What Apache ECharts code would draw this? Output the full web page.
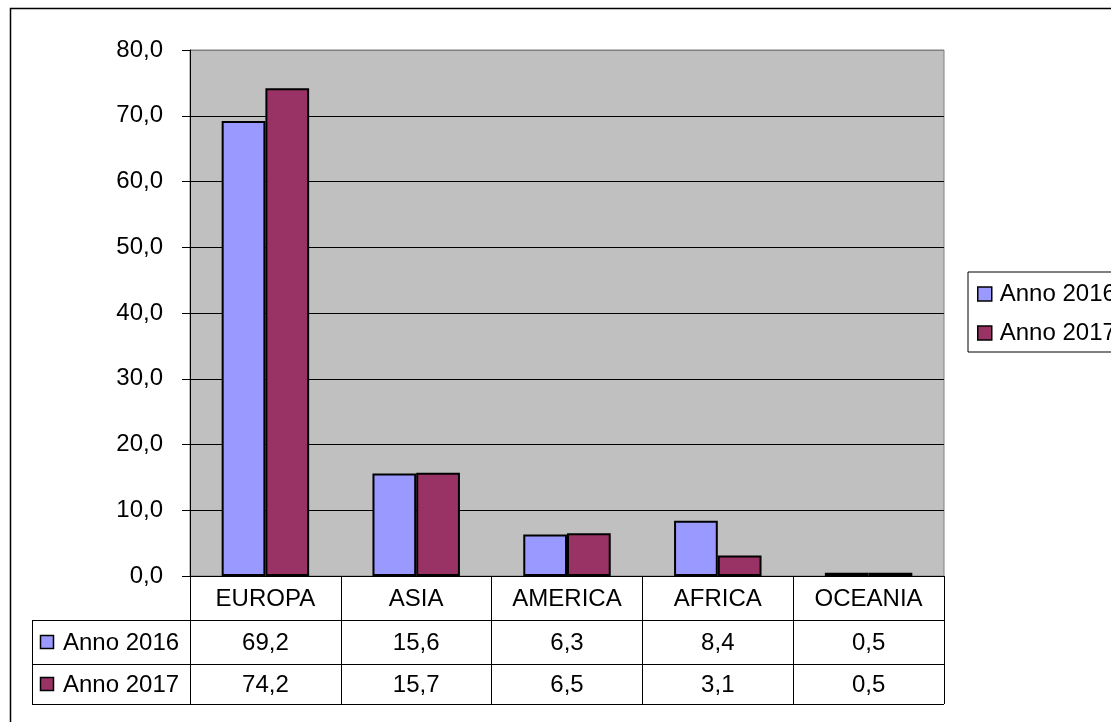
<!DOCTYPE html>
<html><head><meta charset="utf-8">
<script src="https://cdn.jsdelivr.net/npm/echarts@6/dist/echarts.min.js"></script>
<style>html,body{margin:0;padding:0;background:#fff}#c{width:1111px;height:722px}</style>
</head><body><div id="c"></div>
<script>
const categories = ['EUROPA', 'ASIA', 'AMERICA', 'AFRICA', 'OCEANIA'];
const seriesNames = ['Anno 2016', 'Anno 2017'];
const values2016 = [69.2, 15.6, 6.3, 8.4, 0.5];
const values2017 = [74.2, 15.7, 6.5, 3.1, 0.5];
const seriesColors = ['#9999FF', '#993366'];

const FONT = "'Liberation Sans', Arial, sans-serif";
const FS = 24;
const G = { left: 190, right: 944, top: 50, bottom: 576 };
const ROW_H = [44, 44, 40];
const TABLE_LEFT = 32;
const fmt = v => v.toFixed(1).replace('.', ',');

const chart = echarts.init(document.getElementById('c'));

const rowTops = [G.bottom, G.bottom + ROW_H[0], G.bottom + ROW_H[0] + ROW_H[1]];
const tableBottom = rowTops[2] + ROW_H[2];

const graphics = [
  { type: 'rect', shape: { x: 10.5, y: 8.5, width: 1200, height: 800 },
    style: { fill: 'none', stroke: '#000', lineWidth: 1.5 }, z: 100 },
];
[rowTops[1], rowTops[2], tableBottom].forEach(y => {
  graphics.push({ type: 'line', shape: { x1: TABLE_LEFT, y1: y + 0.5, x2: G.right, y2: y + 0.5 },
    style: { stroke: '#000', lineWidth: 1 }, z: 100 });
});
graphics.push({ type: 'line', shape: { x1: TABLE_LEFT + 0.5, y1: rowTops[1], x2: TABLE_LEFT + 0.5, y2: tableBottom },
  style: { stroke: '#000', lineWidth: 1 }, z: 100 });
seriesNames.forEach((name, i) => {
  const cy = rowTops[i + 1] + ROW_H[i + 1] / 2;
  graphics.push({ type: 'rect', shape: { x: 40.5, y: cy - 6.5, width: 13, height: 13 },
    style: { fill: seriesColors[i], stroke: '#000', lineWidth: 1.5 }, z: 100 });
  graphics.push({ type: 'text', x: 63, y: cy + 1,
    style: { text: name, font: FS + 'px ' + FONT, fill: '#000', textVerticalAlign: 'middle', verticalAlign: 'middle' }, z: 100 });
});

const labelText = categories.map((c, i) => c + '\n{v1|' + fmt(values2016[i]) + '}\n{v2|' + fmt(values2017[i]) + '}');

chart.setOption({
  animation: false,
  backgroundColor: '#fff',
  textStyle: { fontFamily: FONT },
  grid: { left: G.left, top: G.top, width: G.right - G.left, height: G.bottom - G.top,
    show: true, backgroundColor: '#C0C0C0', borderColor: '#808080', borderWidth: 1, containLabel: false },
  legend: {
    left: 968, top: 272, orient: 'vertical',
    data: seriesNames, icon: 'rect', itemWidth: 14, itemHeight: 14, itemGap: 13,
    borderColor: '#000', borderWidth: 1, padding: [9, 40, 6, 9],
    itemStyle: { borderColor: '#000', borderWidth: 1.5 },
    textStyle: { fontSize: FS, color: '#000', fontFamily: FONT, lineHeight: 26, padding: [0, 0, 0, 3] }
  },
  xAxis: {
    type: 'category', data: categories,
    axisLine: { show: true, lineStyle: { color: '#000', width: 1 } },
    axisTick: { show: true, length: tableBottom - G.bottom, lineStyle: { color: '#000' } },
    axisLabel: {
      margin: 1, color: '#000', fontSize: FS, fontFamily: FONT, lineHeight: ROW_H[0],
      formatter: (v) => labelText[categories.indexOf(v)],
      rich: {
        v1: { fontSize: FS, fontFamily: FONT, color: '#000', lineHeight: ROW_H[1] },
        v2: { fontSize: FS, fontFamily: FONT, color: '#000', lineHeight: ROW_H[2] }
      }
    },
    splitLine: { show: false }
  },
  yAxis: {
    type: 'value', min: 0, max: 80, interval: 10,
    axisLine: { show: true, lineStyle: { color: '#000' } },
    axisTick: { show: true, length: 8, lineStyle: { color: '#000' } },
    axisLabel: { margin: 27, color: '#000', fontSize: FS, fontFamily: FONT, formatter: v => fmt(v) },
    splitLine: { show: true, lineStyle: { color: ['#000','#000','#000','#000','#000','#000','#000','#000','#808080'], width: 1 } }
  },
  series: [
    { name: seriesNames[0], type: 'bar', data: values2016, barGap: '0%', barCategoryGap: '42%',
      itemStyle: { color: seriesColors[0], borderColor: '#000', borderWidth: 2 } },
    { name: seriesNames[1], type: 'bar', data: values2017, barGap: '0%', barCategoryGap: '42%',
      itemStyle: { color: seriesColors[1], borderColor: '#000', borderWidth: 2 } }
  ],
  graphic: graphics
});
</script></body></html>
